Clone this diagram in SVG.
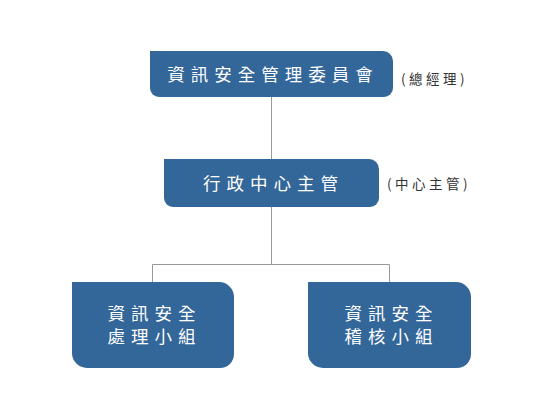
<svg xmlns="http://www.w3.org/2000/svg" width="550" height="411" viewBox="0 0 550 411">
<style>
.node{fill:#336699;}
.t{font-family:"Noto Sans CJK TC","Noto Sans CJK SC",sans-serif;font-size:17.5px;fill:#ffffff;letter-spacing:6px;text-anchor:middle;}
.n{font-family:"Noto Sans CJK TC","Noto Sans CJK SC",sans-serif;font-size:13.5px;fill:#333333;letter-spacing:3.5px;}
.c{fill:none;stroke:#999999;stroke-width:1;}
</style>
<rect width="550" height="411" fill="#ffffff"/>
<g id="connectors">
<path class="c" d="M271.5 97V159M271.5 207V264.5M152.5 282V264.5H389.5V282"/>
</g>
<g id="n1">
<path class="node" d="M150 51H383A10 10 0 0 1 393 61V88A9 9 0 0 1 384 97H159A9 9 0 0 1 150 88Z"/>
<text class="t" x="273" y="81">資訊安全管理委員會</text>
<text class="n" x="401" y="84">(總經理)</text>
</g>
<g id="n2">
<path class="node" d="M164 159H369A10 10 0 0 1 379 169V198A9 9 0 0 1 370 207H173A9 9 0 0 1 164 198Z"/>
<text class="t" x="273.5" y="190">行政中心主管</text>
<text class="n" x="387" y="189">(中心主管)</text>
</g>
<g id="n3">
<path class="node" d="M72 282H219A15 15 0 0 1 234 297V354A14 14 0 0 1 220 368H87A15 15 0 0 1 72 353Z"/>
<text class="t" x="154.5" y="320">資訊安全</text>
<text class="t" x="154.5" y="343">處理小組</text>
</g>
<g id="n4">
<path class="node" d="M308 282H456A15 15 0 0 1 471 297V354A14 14 0 0 1 457 368H323A15 15 0 0 1 308 353Z"/>
<text class="t" x="391.5" y="320">資訊安全</text>
<text class="t" x="391.5" y="343">稽核小組</text>
</g>
</svg>
